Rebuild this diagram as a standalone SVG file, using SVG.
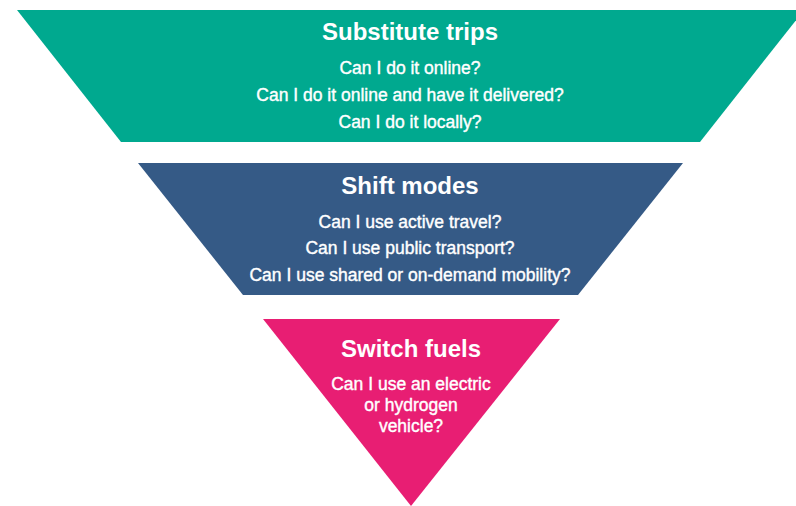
<svg xmlns="http://www.w3.org/2000/svg" width="796" height="506" viewBox="0 0 796 506">
<style>
text{font-family:"Liberation Sans",Arial,sans-serif;fill:#fff;text-anchor:middle}
.t{font-size:24px;font-weight:bold}
.s{font-size:17.5px;stroke:#fff;stroke-width:0.4}
</style>
<rect width="796" height="506" fill="#fff"/>
<g id="substitute">
<polygon points="17,10 804,10 700,142 121,142" fill="#00a98f"/>
<text class="t" x="410" y="40">Substitute trips</text>
<text class="s" x="410" y="74">Can I do it online?</text>
<text class="s" x="410" y="101">Can I do it online and have it delivered?</text>
<text class="s" x="410" y="128">Can I do it locally?</text>
</g>
<g id="shift">
<polygon points="138,163 683,163 578,295 243,295" fill="#355a86"/>
<text class="t" x="410" y="194">Shift modes</text>
<text class="s" x="410" y="228">Can I use active travel?</text>
<text class="s" x="410" y="254">Can I use public transport?</text>
<text class="s" x="410" y="281">Can I use shared or on-demand mobility?</text>
</g>
<g id="switch">
<polygon points="263,319 560,319 411,506" fill="#e81e73"/>
<text class="t" x="411" y="357">Switch fuels</text>
<text class="s" x="411" y="390">Can I use an electric</text>
<text class="s" x="411" y="411">or hydrogen</text>
<text class="s" x="411" y="432">vehicle?</text>
</g>
<g id="connectors"/>
</svg>
